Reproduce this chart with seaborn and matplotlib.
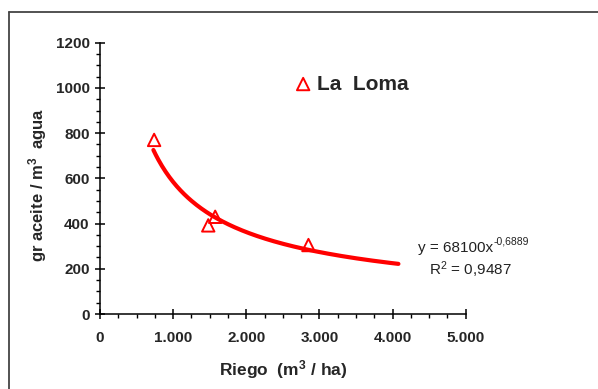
import numpy as np
import pandas as pd
import matplotlib
matplotlib.use("Agg")
import matplotlib.pyplot as plt
import seaborn as sns
from matplotlib.ticker import MultipleLocator, FuncFormatter
from matplotlib.lines import Line2D

# ---- data ----
riego = [740, 1480, 1575, 2850]          # m3/ha
aceite = [770, 392, 430, 305]            # gr aceite / m3 agua
series_name = "La  Loma"
fit_a = 68100
fit_b = -0.6889
fit_eq_main = "y = 68100x"
fit_eq_exp = "-0,6889"
fit_r2 = "0,9487"
fit_x_range = [730, 4080]
x_ticks = [0, 1000, 2000, 3000, 4000, 5000]
y_ticks = [0, 200, 400, 600, 800, 1000, 1200]

sns.set_style("white")
plt.rcParams['font.family'] = ['Liberation Sans', 'DejaVu Sans']
plt.rcParams['mathtext.fontset'] = 'custom'
plt.rcParams['mathtext.rm'] = 'Liberation Sans'
plt.rcParams['mathtext.it'] = 'Liberation Sans'
plt.rcParams['mathtext.bf'] = 'Liberation Sans:bold'

W, H = 598, 389
fig = plt.figure(figsize=(W / 100, H / 100), dpi=100)
ax = fig.add_axes([100 / W, 1 - 314 / H, 365.7 / W, (314 - 42.7) / H])

df = pd.DataFrame({"riego": riego, "aceite": aceite, "serie": series_name})
xf = np.linspace(fit_x_range[0], fit_x_range[1], 200)
fit_df = pd.DataFrame({"x": xf, "y": fit_a * xf ** fit_b})

sns.lineplot(data=fit_df, x="x", y="y", ax=ax, color="#ff0000", lw=3.0,
             legend=False, zorder=2)
sns.scatterplot(data=df, x="riego", y="aceite", ax=ax, marker="^", s=80,
                facecolor="none", edgecolor="#ff0000", linewidth=1.4,
                label=series_name, zorder=3, clip_on=False)

ax.set_xlim(0, 5000)
ax.set_ylim(0, 1200)
ax.set_xticks(x_ticks)
ax.set_yticks(y_ticks)
ax.xaxis.set_minor_locator(MultipleLocator(250))
ax.yaxis.set_minor_locator(MultipleLocator(50))
ax.xaxis.set_major_formatter(FuncFormatter(lambda v, p: f"{int(v):,}".replace(",", ".")))

for s in ["top", "right"]:
    ax.spines[s].set_visible(False)
for s in ["left", "bottom"]:
    ax.spines[s].set_color("black")
    ax.spines[s].set_linewidth(1.1)

ax.tick_params(which="major", direction="inout", length=7, width=1.1, color="black",
               labelsize=11)
ax.tick_params(which="minor", direction="out", length=3, width=1.0, color="black")
ax.tick_params(axis="x", which="major", pad=9)
ax.tick_params(axis="y", which="major", pad=4)
ax.tick_params(which="both", bottom=True, left=True)
for lab in ax.get_xticklabels() + ax.get_yticklabels():
    lab.set_fontweight("bold")

ax.set_xlabel(r"Riego  (m$^{\mathbf{3}}$ / ha)", fontsize=12.5, fontweight="bold", labelpad=9)
ax.set_ylabel(r"gr aceite / m$^{\mathbf{3}}$  agua", fontsize=12, fontweight="bold")
ax.yaxis.set_label_coords(49 / W, 1 - 185 / H, transform=fig.transFigure)

leg = ax.legend(loc="center left", bbox_to_anchor=(274 / W, 1 - 84 / H),
                bbox_transform=fig.transFigure, frameon=False,
                prop={"size": 15, "weight": "bold"}, handlelength=1.0,
                handletextpad=0.15, borderpad=0.4)

t1 = fig.text(418 / W, 1 - 252 / H, fit_eq_main, ha="left", va="baseline",
              fontsize=11, color="#222222")
fig.canvas.draw()
bb = t1.get_window_extent()
fig.text(bb.x1 / W, 1 - 245 / H, fit_eq_exp, ha="left", va="baseline",
         fontsize=7.5, color="#222222")
fig.text(470 / W, 1 - 270 / H, r"R$^{2}$ = " + fit_r2, ha="center", va="center",
         fontsize=11, color="#222222")

# frame
fig.add_artist(Line2D([9 / W, 9 / W], [0, 1 - 12 / H], color="#444444", lw=1.3))
fig.add_artist(Line2D([9 / W, 1], [1 - 12 / H, 1 - 12 / H], color="#444444", lw=1.3))

fig.savefig("out.png", dpi=100)
